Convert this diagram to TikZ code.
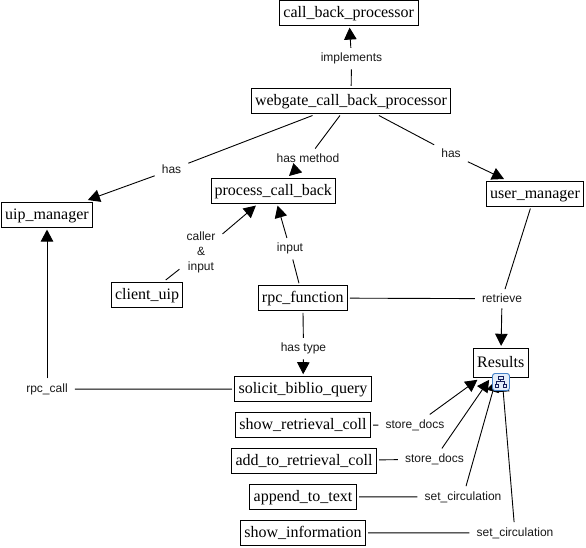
\documentclass[tikz,border=0pt]{standalone}
\usepackage{fontspec}
\setmainfont{Liberation Serif}
\newfontfamily\labfont{Liberation Sans}
\usetikzlibrary{arrows.meta}
\tikzset{
  box/.style={draw=black,line width=0.9pt,fill=white,inner sep=0pt,outer sep=2.5pt,minimum height=24.6pt,font=\fontsize{16}{18}\selectfont,text height=11.7pt,text depth=2.8pt},
  lab/.style={inner xsep=7pt,inner ysep=5pt,yshift=-1.2pt,font=\labfont\fontsize{12}{15}\selectfont,align=center,text=black!90},
  link/.style={draw=black,line width=0.9pt},
  arr/.style={link,-{Triangle[length=12pt,width=12.5pt]}}
}
\begin{document}
\begin{tikzpicture}[x=1pt,y=-1pt]
\useasboundingbox (0,0) rectangle (586,548);
\fill[white] (0,0) rectangle (586,548);
% boxes
\node[box,minimum width=138.7pt] (cbp) at (348.7,12.8) {call\_back\_processor};
\node[box,minimum width=199pt] (web) at (351,100.7) {webgate\_call\_back\_processor};
\node[box,minimum width=124.5pt] (pcb) at (273.3,190.8) {process\_call\_back};
\node[box,minimum width=91pt] (uip) at (47,214.8) {uip\_manager};
\node[box,minimum width=96.6pt] (um) at (535,193.8) {user\_manager};
\node[box,minimum width=71pt] (cu) at (147,294.8) {client\_uip};
\node[box,minimum width=89pt] (rf) at (302.8,298) {rpc\_function};
\node[box,minimum width=55pt,minimum height=29pt] (res) at (500.8,362.8) {Results};
\node[box,minimum width=137.4pt] (sbq) at (303,389) {solicit\_biblio\_query};
\node[box,minimum width=135.4pt] (src) at (303,424.8) {show\_retrieval\_coll};
\node[box,minimum width=145.4pt] (arc) at (304,460.8) {add\_to\_retrieval\_coll};
\node[box,minimum width=107.4pt] (att) at (303,496.8) {append\_to\_text};
\node[box,minimum width=125.4pt] (si) at (303,532.8) {show\_information};
% labels
\node[lab] (l1) at (351.5,57.5) {implements};
\node[lab] (l2) at (171.5,168.5) {has};
\node[lab] (l3) at (308,157) {has method};
\node[lab] (l4) at (451,152.5) {has};
\node[lab] (l5) at (201,251) {caller\\\&\\input};
\node[lab] (l6) at (290,247.5) {input};
\node[lab] (l7) at (502,297.5) {retrieve};
\node[lab] (l8) at (303.5,347.5) {has type};
\node[lab] (l9) at (47,388) {rpc\_call};
\node[lab] (l10) at (415,424) {store\_docs};
\node[lab] (l11) at (434.5,458) {store\_docs};
\node[lab] (l12) at (463,495.7) {set\_circulation};
\node[lab] (l13) at (515,531.7) {set\_circulation};
% connectors
\draw[link] (web) -- (l1); \draw[arr] (l1) -- (cbp);
\draw[link] (web) -- (l2); \draw[arr] (l2) -- (uip);
\draw[link] (web) -- (l3); \draw[arr] (l3) -- (pcb);
\draw[link] (web) -- (l4); \draw[arr] (l4) -- (um);
\draw[link] (cu) -- (l5); \draw[arr] (l5) -- (pcb);
\draw[link] (rf) -- (l6); \draw[arr] (l6) -- (pcb);
\draw[link] (rf) -- (l7); \draw[link] (um) -- (l7); \draw[arr] (l7) -- (res);
\draw[link] (rf) -- (l8); \draw[arr] (l8) -- (sbq);
\draw[link] (sbq) -- (l9); \draw[arr] (l9) -- (uip);
\draw[link] (src) -- (l10); \draw[arr] (l10) -- (res);
\draw[link] (arc) -- (l11); \draw[arr] (l11) -- (res);
\draw[link] (att) -- (l12); \draw[arr] (l12) -- (res);
\draw[link] (si) -- (l13); \draw[arr] (l13) -- (res);
% concept-map icon
\draw[draw={rgb,255:red,70;green,130;blue,200},fill={rgb,255:red,228;green,238;blue,250},line width=0.9pt,rounded corners=2.5pt] (492.5,373.5) rectangle (509.5,390.5);
\begin{scope}[draw={rgb,255:red,20;green,30;blue,90},line width=0.8pt]
\draw (498,376) rectangle (503,379);
\draw (495,384) rectangle (498,387);
\draw (503,384) rectangle (506,387);
\draw (496.5,384) -- (496.5,381) -- (504.5,381) -- (504.5,384);
\draw (500.5,379) -- (500.5,381);
\end{scope}
\end{tikzpicture}
\end{document}
